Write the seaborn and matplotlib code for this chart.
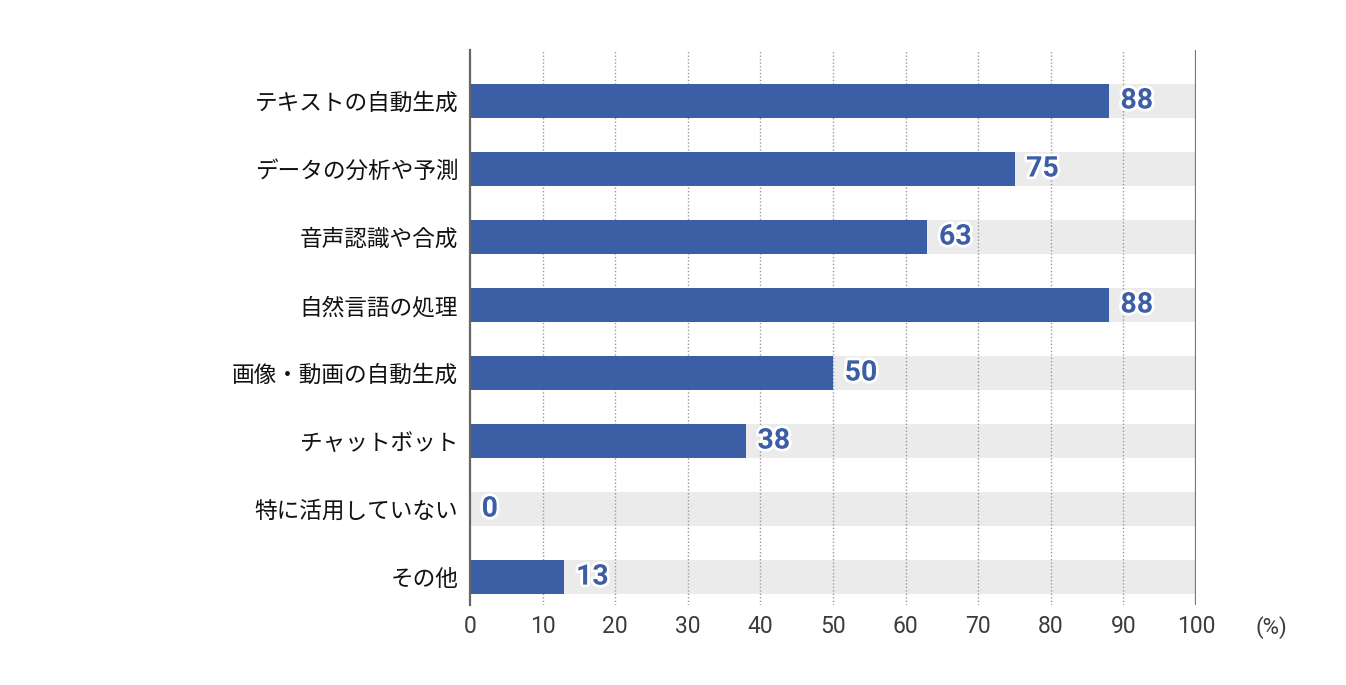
import matplotlib
matplotlib.use("Agg")
import matplotlib.pyplot as plt
import matplotlib.patheffects as pe
import seaborn as sns
import pandas as pd

categories = ["テキストの自動生成", "データの分析や予測", "音声認識や合成", "自然言語の処理",
              "画像・動画の自動生成", "チャットボット", "特に活用していない", "その他"]
values = [88, 75, 63, 88, 50, 38, 0, 13]
full = [100] * len(categories)
xticks = [0, 10, 20, 30, 40, 50, 60, 70, 80, 90, 100]

sns.set_theme(style="white")
plt.rcParams['font.family'] = ['Noto Sans CJK JP', 'DejaVu Sans']

df = pd.DataFrame({"cat": categories, "val": values, "full": full})

fig = plt.figure(figsize=(13.46, 6.85), dpi=100)
ax = fig.add_axes([470/1346, 1-605/685, (1196-470)/1346, (605-50)/685])

blue = "#3b5ea4"
sns.barplot(data=df, y="cat", x="full", orient="h", color="#ebebeb", width=0.49,
            saturation=1, ax=ax, zorder=0.3, linewidth=0)
sns.barplot(data=df, y="cat", x="val", orient="h", color=blue, width=0.49,
            saturation=1, ax=ax, zorder=2, linewidth=0)

ax.set_xlim(0, 100)
ax.set_ylim(7.41, -0.75)
ax.set_xticks(xticks)
ax.set_xlabel("")
ax.set_ylabel("")

for x in xticks[1:-1]:
    ax.axvline(x, color="#9a9a9a", linestyle=(0, (1, 1.5)), linewidth=1, zorder=1)
ax.axvline(100, color="#777777", linewidth=1.6, zorder=1)

for s in ["top", "right", "bottom"]:
    ax.spines[s].set_visible(False)
ax.spines["left"].set_color("#666666")
ax.spines["left"].set_linewidth(1.6)
ax.spines["left"].set_zorder(3)

ax.tick_params(axis="y", length=0, pad=8.5, labelsize=16.3, labelcolor="#111111")
ax.tick_params(axis="x", length=0, pad=7, labelsize=16.5, labelcolor="#3c3c3c")
for lab in ax.get_xticklabels():
    lab.set_family(["Roboto", "DejaVu Sans"])

for i, v in enumerate(values):
    t = ax.text(v + 1.6, i, str(v), va="center", ha="left", fontsize=20.5,
                fontweight="bold", color=blue, family=["Roboto", "DejaVu Sans"], zorder=4)
    t.set_path_effects([pe.withStroke(linewidth=4, foreground="white")])

fig.text(1271/1346, 1-628/685, "(%)", ha="center", va="center", fontsize=16,
         color="#3c3c3c", family=["Roboto", "DejaVu Sans"])

fig.savefig("out.png", dpi=100)
